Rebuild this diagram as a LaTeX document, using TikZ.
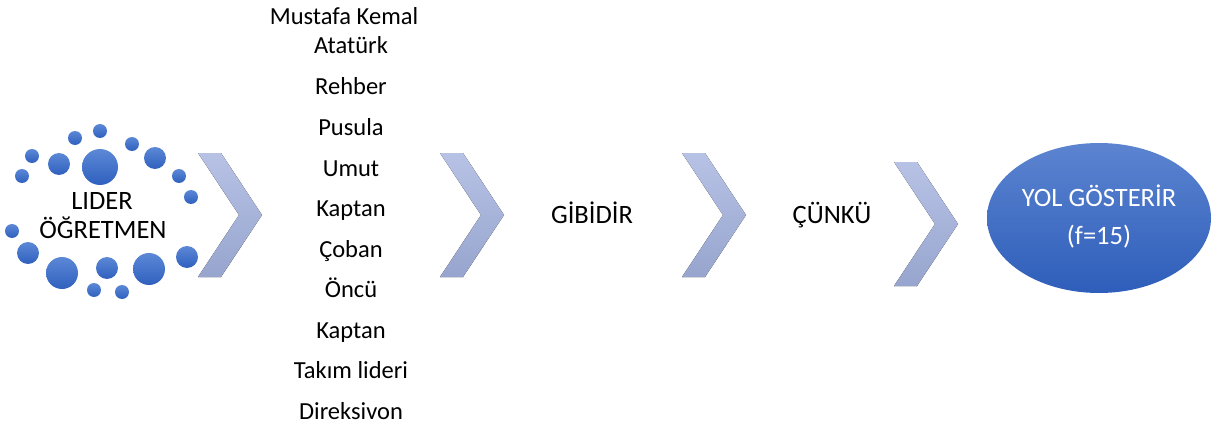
\documentclass[tikz,border=0pt]{standalone}
\usepackage{fontspec}
\setmainfont{Carlito}
\usetikzlibrary{shapes.geometric}
\newcommand\mychev[3]{% left x, top y, height
  \fill[chevfill] (#1,#2) -- ++(23,0) -- ++(41,#3/2) -- ++(-41,#3/2) -- ++(-23,0) -- ++(41,-#3/2) -- cycle;}
\begin{document}
\begin{tikzpicture}[x=1pt,y=-1pt,
  dot/.style={circle, inner sep=0pt, minimum size=#1, top color=dotTop, bottom color=dotBot, draw=none},
  chevfill/.style={top color=chevTop, bottom color=chevBot},
  lst/.style={anchor=base, inner sep=0pt, font=\fontsize{24.5}{29}\selectfont},
  lbl/.style={anchor=base, inner sep=0pt, font=\fontsize{26.5}{30}\selectfont},
  ell/.style={ellipse, minimum width=224, minimum height=150, top color=ellTop, bottom color=ellBot, draw=none, inner sep=0pt}]
\definecolor{dotTop}{HTML}{5C88D6}
\definecolor{dotBot}{HTML}{2F60BE}
\definecolor{chevTop}{HTML}{B7C2E5}
\definecolor{chevBot}{HTML}{97A5CE}
\definecolor{ellTop}{HTML}{5C84D0}
\definecolor{ellBot}{HTML}{2E5EBA}
\useasboundingbox (0,0) rectangle (1224,428);
% circles
\node[dot=36] (c1) at (100,167) {};
\node[dot=14] (c2) at (75,138) {};
\node[dot=14] (c3) at (100,131) {};
\node[dot=14] (c4) at (132,144) {};
\node[dot=22] (c5) at (155,158) {};
\node[dot=22] (c6) at (59,164) {};
\node[dot=14] (c7) at (32,156) {};
\node[dot=14] (c8) at (22,176) {};
\node[dot=14] (c9) at (179,176) {};
\node[dot=14] (c10) at (191,197) {};
\node[dot=14] (c11) at (12,231) {};
\node[dot=22] (c12) at (28,253) {};
\node[dot=32] (c13) at (62,273) {};
\node[dot=22] (c14) at (107,268) {};
\node[dot=32] (c15) at (149,269) {};
\node[dot=22] (c16) at (187,257) {};
\node[dot=14] (c17) at (94,290) {};
\node[dot=14] (c18) at (122,292) {};
\node[lbl] (l1) at (102,209) {LIDER};
\node[lbl] (l2) at (103,238) {ÖĞRETMEN};
% chevrons
\mychev{198}{153}{124}
\mychev{440}{153}{124}
\mychev{682}{153}{124}
\mychev{894}{162}{124}
% list
\node[lst] (t1) at (344,25) {Mustafa Kemal};
\node[lst] (t2) at (351,54) {Atatürk};
\node[lst] (t3) at (351,95) {Rehber};
\node[lst] (t4) at (351,135.5) {Pusula};
\node[lst] (t5) at (351,176) {Umut};
\node[lst] (t6) at (351,216.5) {Kaptan};
\node[lst] (t7) at (351,257) {Çoban};
\node[lst] (t8) at (351,297.5) {Öncü};
\node[lst] (t9) at (351,338) {Kaptan};
\node[lst] (t10) at (351,378.5) {Takım lideri};
\node[lst] (t11) at (351,419) {Direksivon};
\node[lbl] (g) at (592,223) {GİBİDİR};
\node[lbl] (k) at (832,223) {ÇÜNKÜ};
\node[ell] (e) at (1099,218) {};
\node[lbl, text=white] (y1) at (1099,206) {YOL GÖSTERİR};
\node[lbl, text=white] (y2) at (1099,244) {(f=15)};
\end{tikzpicture}
\end{document}
